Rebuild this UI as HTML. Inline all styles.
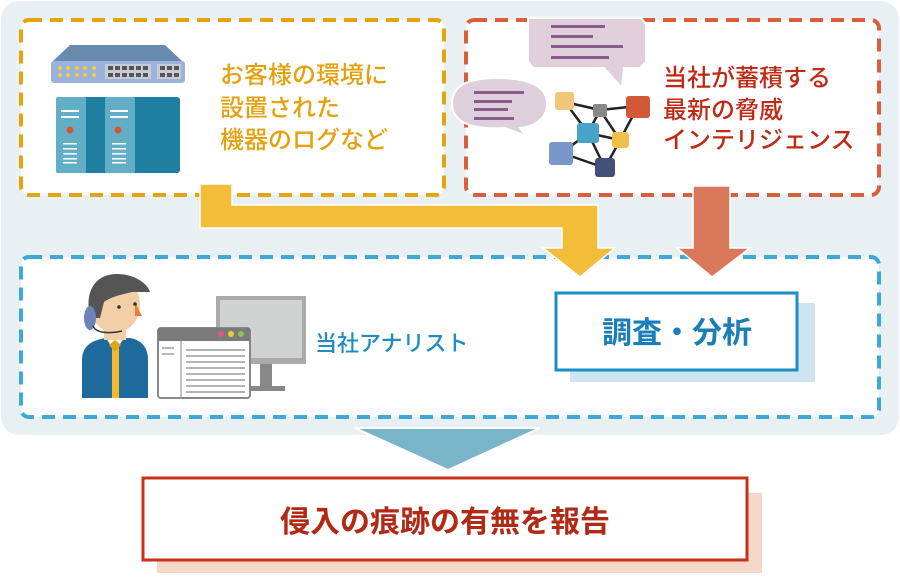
<!DOCTYPE html>
<html><head><meta charset="utf-8"><style>
html,body{margin:0;padding:0;background:#fff;}
svg{display:block;}
text{font-family:"Liberation Sans","Noto Sans CJK JP",sans-serif;font-weight:500;}
</style></head><body>
<svg width="900" height="577" viewBox="0 0 900 577">
<rect x="1" y="1" width="898" height="434" rx="18" fill="#e8f0f4"/>
<rect x="21" y="20" width="423" height="175" rx="8" fill="#fff" stroke="#e3a40e" stroke-width="4" stroke-dasharray="13 8"/>
<rect x="466" y="20" width="413" height="175" rx="8" fill="#fff" stroke="#d95f3a" stroke-width="4" stroke-dasharray="13 8"/>
<rect x="21" y="257" width="858" height="160" rx="8" fill="#fff" stroke="#3ea8d8" stroke-width="4" stroke-dasharray="13 8"/>
<path d="M200 184 H232 V205 H598 V248 H615 L580 277 L543 248 H562 V228 H200 Z" fill="#f3bd3a" stroke="#fff" stroke-width="1.5"/>
<path d="M693 186 H730 V248 H750 L712 277 L677 248 H693 Z" fill="#d9785a" stroke="#fff" stroke-width="1.5"/>
<path d="M52 62 L70 45 H165 L183 62 Z" fill="#6a8bb0"/>
<rect x="51" y="61" width="134" height="22" rx="3" fill="#9bb2da"/>
<g fill="#f5d040"><circle cx="60" cy="68" r="2"/><circle cx="68" cy="68" r="2"/><circle cx="77" cy="68" r="2"/><circle cx="85" cy="68" r="2"/><circle cx="94" cy="68" r="2"/><circle cx="60" cy="75" r="2"/><circle cx="68" cy="75" r="2"/><circle cx="77" cy="75" r="2"/><circle cx="85" cy="75" r="2"/><circle cx="94" cy="75" r="2"/></g>
<rect x="105" y="64" width="46" height="15" fill="#c8ccd6"/><rect x="157" y="64" width="24" height="15" fill="#c8ccd6"/>
<g fill="#555"><rect x="108" y="66" width="5" height="4"/><rect x="115" y="66" width="5" height="4"/><rect x="122" y="66" width="5" height="4"/><rect x="129" y="66" width="5" height="4"/><rect x="136" y="66" width="5" height="4"/><rect x="143" y="66" width="5" height="4"/><rect x="108" y="73" width="5" height="4"/><rect x="115" y="73" width="5" height="4"/><rect x="122" y="73" width="5" height="4"/><rect x="129" y="73" width="5" height="4"/><rect x="136" y="73" width="5" height="4"/><rect x="143" y="73" width="5" height="4"/><rect x="160" y="66" width="5" height="4"/><rect x="167" y="66" width="5" height="4"/><rect x="174" y="66" width="5" height="4"/><rect x="160" y="73" width="5" height="4"/><rect x="167" y="73" width="5" height="4"/><rect x="174" y="73" width="5" height="4"/></g>
<rect x="56" y="97" width="124" height="76" rx="3" fill="#1f7fa0"/>
<rect x="56" y="97" width="30" height="76" rx="2" fill="#62aec6"/>
<rect x="105" y="97" width="30" height="76" rx="2" fill="#62aec6"/>
<g fill="#fff"><rect x="61" y="110" width="18" height="2"/><rect x="61" y="116" width="18" height="2"/><rect x="110" y="110" width="18" height="2"/><rect x="110" y="116" width="18" height="2"/>
<rect x="63" y="143" width="14" height="1.5"/><rect x="63" y="148" width="14" height="1.5"/><rect x="63" y="153" width="14" height="1.5"/><rect x="63" y="158" width="14" height="1.5"/><rect x="63" y="162" width="14" height="1.5"/>
<rect x="112" y="143" width="14" height="1.5"/><rect x="112" y="148" width="14" height="1.5"/><rect x="112" y="153" width="14" height="1.5"/><rect x="112" y="158" width="14" height="1.5"/><rect x="112" y="162" width="14" height="1.5"/></g>
<circle cx="70" cy="130" r="3.5" fill="#d9533a"/><circle cx="118" cy="130" r="3.5" fill="#d9533a"/>
<g fill="#e3a10e" font-size="24"><text x="220" y="83">お客様の環境に</text><text x="220" y="116">設置された</text><text x="220" y="148">機器のログなど</text></g>
<path d="M528 18 H641 L646 24 V62 L640 68 H624 L622 88 L604 68 H533 L528 62 Z" fill="#e2cfdc" stroke="#fff" stroke-width="2"/>
<g fill="#8a5c8c"><rect x="551" y="25" width="54" height="3"/><rect x="551" y="35" width="42" height="3"/><rect x="551" y="45" width="72" height="3"/><rect x="551" y="56" width="58" height="3"/></g>
<path d="M452 103 C452 85 470 78 497 78 C528 78 547 86 547 104 C547 120 532 127 520 128 L526 136 L505 128 C470 130 452 122 452 103 Z" fill="#ddd0dc" stroke="#fff" stroke-width="2"/>
<g fill="#8a5c8c"><rect x="474" y="91" width="50" height="3"/><rect x="474" y="100" width="38" height="3"/><rect x="474" y="108" width="34" height="3"/><rect x="474" y="117" width="40" height="3"/></g>
<g stroke="#222" stroke-width="2.5"><line x1="565" y1="102" x2="600" y2="110"/><line x1="600" y1="110" x2="638" y2="106"/><line x1="600" y1="110" x2="588" y2="133"/><line x1="600" y1="110" x2="620" y2="140"/><line x1="638" y1="106" x2="620" y2="140"/><line x1="588" y1="133" x2="620" y2="140"/><line x1="588" y1="133" x2="562" y2="153"/><line x1="588" y1="133" x2="605" y2="168"/><line x1="562" y1="153" x2="605" y2="168"/><line x1="620" y1="140" x2="605" y2="168"/><line x1="565" y1="102" x2="588" y2="133"/></g>
<rect x="555" y="92" width="19" height="18" rx="3" fill="#eec878"/>
<rect x="593" y="104" width="14" height="13" rx="2" fill="#888"/>
<rect x="626" y="96" width="24" height="22" rx="3" fill="#d2583a"/>
<rect x="577" y="123" width="22" height="20" rx="3" fill="#47a3c8"/>
<rect x="612" y="132" width="17" height="16" rx="3" fill="#eec048"/>
<rect x="549" y="142" width="24" height="23" rx="3" fill="#7798c8"/>
<rect x="595" y="158" width="20" height="19" rx="3" fill="#45507a"/>
<g fill="#bf2a16" font-size="24"><text x="663" y="86">当社が蓄積する</text><text x="663" y="118">最新の脅威</text><text x="663" y="148">インテリジェンス</text></g>
<!-- analyst -->
<path d="M82 398 V360 C82 346 92 340 106 338 H130 C142 340 148 348 148 360 V398 Z" fill="#1f6a9c"/>
<path d="M106 338 L115 352 L124 338 Z" fill="#fff"/>
<rect x="112" y="346" width="7" height="52" fill="#f2b830"/>
<path d="M109 345 L115 340 L121 345 L115 352 Z" fill="#e0a418"/>
<rect x="104" y="324" width="22" height="16" fill="#f3cfa8"/>
<ellipse cx="115" cy="305" rx="25" ry="28" fill="#f3cfa8"/>
<path d="M90 318 C84 290 96 274 117 274 C135 274 148 284 150 292 L132 292 C125 294 112 296 104 302 L100 318 Z" fill="#555"/>
<path d="M135 302 L142 316 L135 316 Z" fill="#f07a40"/>
<circle cx="119" cy="307" r="1.8" fill="#333"/><circle cx="135" cy="304" r="1.8" fill="#333"/>
<ellipse cx="90" cy="318" rx="6" ry="12" fill="#6e84b8"/>
<path d="M93 326 C96 333 108 334 122 331" stroke="#333" stroke-width="1.5" fill="none"/>
<rect x="216" y="296" width="90" height="68" fill="#aaa"/><rect x="220" y="300" width="82" height="58" fill="#d0d2d2"/>
<path d="M260 364 H272 V386 H285 V391 H250 V386 H260 Z" fill="#888"/>
<rect x="158" y="328" width="92" height="70" rx="3" fill="#fff" stroke="#888" stroke-width="2"/>
<rect x="158" y="328" width="92" height="13" fill="#7a7a7a"/>
<circle cx="221" cy="334" r="3" fill="#e05a7a"/><circle cx="231" cy="334" r="3" fill="#f2c840"/><circle cx="241" cy="334" r="3" fill="#8fc060"/>
<line x1="181" y1="341" x2="181" y2="398" stroke="#888"/>
<g stroke="#888" stroke-width="1.2"><line x1="186" y1="350" x2="245" y2="350"/><line x1="186" y1="356" x2="245" y2="356"/><line x1="186" y1="362" x2="245" y2="362"/><line x1="186" y1="368" x2="245" y2="368"/><line x1="186" y1="374" x2="245" y2="374"/><line x1="186" y1="380" x2="245" y2="380"/><line x1="186" y1="386" x2="245" y2="386"/><line x1="186" y1="392" x2="245" y2="392"/><line x1="162" y1="348" x2="174" y2="348"/><line x1="162" y1="354" x2="174" y2="354"/></g>
<text x="315" y="351" font-size="22" fill="#1f8dc0">当社アナリスト</text>
<rect x="570" y="303" width="245" height="79" fill="#cfe4f1"/>
<rect x="556" y="293" width="241" height="77" fill="#fff" stroke="#1a8fc6" stroke-width="3"/>
<text x="677" y="343" font-size="30" fill="#1a7fb8" text-anchor="middle" style="font-weight:700">調査・分析</text>
<path d="M355 428 H540 L448 470 Z" fill="#7ab4c8" stroke="#fff" stroke-width="2"/>
<rect x="157" y="493" width="605" height="80" fill="#f6d8c8"/>
<rect x="143" y="478" width="604" height="82" fill="#fff" stroke="#c9301c" stroke-width="3"/>
<text x="445" y="532" font-size="30" fill="#b02a16" text-anchor="middle" style="font-weight:700">侵入の痕跡の有無を報告</text>
</svg>
</body></html>
